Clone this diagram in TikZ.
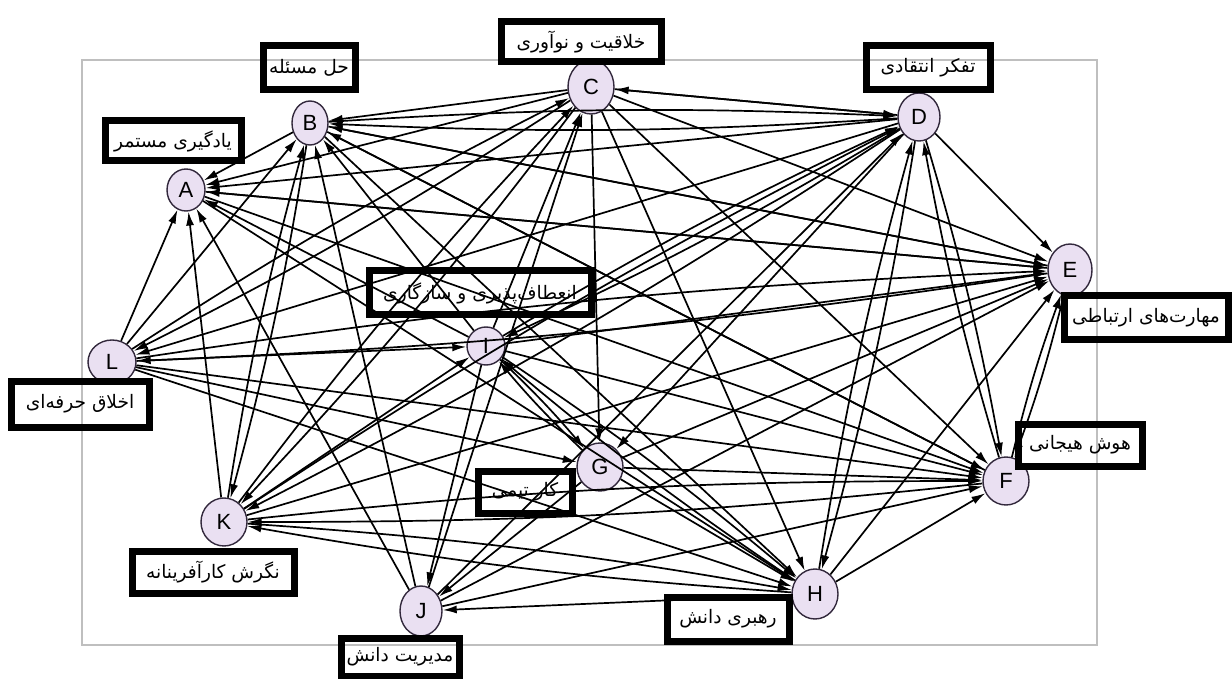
\documentclass[tikz,border=0pt]{standalone}
\usepackage{fontspec}
\setmainfont{Liberation Sans}
\newfontfamily\farsi[Script=Arabic]{DejaVu Sans}
\TeXXeTstate=1
\usetikzlibrary{shapes.geometric,arrows.meta}

\definecolor{lilac}{RGB}{234,224,242}
\definecolor{rim}{RGB}{50,40,60}

\tikzstyle{factor}=[ellipse,draw=rim,fill=lilac,line width=0.7pt,minimum width=22pt,minimum height=24pt,inner sep=0pt,font=\fontsize{11}{12}\selectfont]
\tikzstyle{tag}=[draw,line width=3.5pt,inner sep=0pt,font=\farsi\fontsize{9.3}{11}\selectfont]
\tikzstyle{frame}=[draw=black!25,line width=0.6pt]
\tikzstyle{pair}=[bend left=3]

\begin{document}
\begin{tikzpicture}[->, >={Latex[length=7pt,width=4pt]}, x=0.5pt, y=-0.5pt, line width=0.85pt]
		\useasboundingbox (0,0) rectangle (1232,679);
		\draw [frame,-] (82,60) rectangle (1097,645);

		\node [factor, minimum width=19pt, minimum height=21pt] (A) at (186,190) {A};
		\node [factor, minimum width=18pt, minimum height=22pt] (B) at (310,123) {B};
		\node [factor, minimum width=23pt, minimum height=27pt] (C) at (591,87)  {C};
		\node [factor, minimum width=21pt, minimum height=24pt] (D) at (919,117) {D};
		\node [factor, minimum width=22pt, minimum height=26pt] (E) at (1070,270) {E};
		\node [factor, minimum width=23pt, minimum height=24pt] (F) at (1006,481) {F};
		\node [factor, minimum width=23pt, minimum height=24pt] (G) at (600,467) {G};
		\node [factor, minimum width=23pt, minimum height=25pt] (H) at (815,594) {H};
		\node [factor, minimum width=19pt, minimum height=19pt] (I) at (486,346) {I};
		\node [factor, minimum width=21pt, minimum height=25pt] (J) at (421,611) {J};
		\node [factor, minimum width=23pt, minimum height=24pt] (K) at (224,522) {K};
		\node [factor, minimum width=24pt, minimum height=22pt] (L) at (112,362) {L};

		\node [tag, minimum width=68pt, minimum height=20pt]  (tagA) at (173,141)  {\beginR یادگیری مستمر\endR};
		\node [tag, minimum width=46pt, minimum height=22pt]  (tagB) at (309,68)   {\beginR حل مسئله\endR};
		\node [tag, minimum width=80pt, minimum height=20pt]  (tagC) at (581,42)   {\beginR خلاقیت و نوآوری\endR};
		\node [tag, minimum width=62pt, minimum height=22pt]  (tagD) at (928,68)   {\beginR تفکر انتقادی\endR};
		\node [tag, minimum width=82pt, minimum height=22pt]  (tagE) at (1146,318) {\beginR مهارت‌های ارتباطی\endR};
		\node [tag, minimum width=62pt, minimum height=21pt]  (tagF) at (1080,445) {\beginR هوش هیجانی\endR};
		\node [tag, minimum width=47pt, minimum height=21pt]  (tagG) at (525,492)  {\beginR کار تیمی\endR};
		\node [tag, minimum width=61pt, minimum height=22pt]  (tagH) at (728,619)  {\beginR رهبری دانش\endR};
		\node [tag, minimum width=111pt, minimum height=22pt] (tagI) at (480,293)  {\beginR انعطاف‌پذیری و سازگاری\endR};
		\node [tag, minimum width=59pt, minimum height=19pt]  (tagJ) at (400,657)  {\beginR مدیریت دانش\endR};
		\node [tag, minimum width=81pt, minimum height=21pt]  (tagK) at (213,572)  {\beginR نگرش کارآفرینانه\endR};
		\node [tag, minimum width=69pt, minimum height=23pt]  (tagL) at (80,404)   {\beginR اخلاق حرفه‌ای\endR};

		% into A
		\draw (B) edge (A);
		\draw (C) edge (A);
		\draw (D) edge (A);
		\draw (E) edge (A);
		\draw (I) edge (A);
		\draw (J) edge (A);
		\draw (K) edge (A);
		\draw (L) edge (A);
		\draw (A) edge (E);
		\draw (A) edge (F);
		\draw (A) edge (H);
		% into B
		\draw (C) edge (B);
		\draw (D) edge[pair] (B);
		\draw (E) edge (B);
		\draw (F) edge (B);
		\draw (I) edge (B);
		\draw (J) edge (B);
		\draw (K) edge[pair] (B);
		\draw (L) edge (B);
		\draw (B) edge[pair] (D);
		\draw (B) edge (E);
		\draw (B) edge (F);
		\draw (B) edge (H);
		\draw (B) edge[pair] (K);
		% C
		\draw (D) edge (C);
		\draw (C) edge (D);
		\draw (C) edge (E);
		\draw (C) edge (F);
		\draw (C) edge (G);
		\draw (C) edge (H);
		\draw (C) edge[pair] (K);
		\draw (C) edge[pair] (L);
		\draw (I) edge (C);
		\draw (K) edge[pair] (C);
		\draw (L) edge[pair] (C);
		\draw (J) edge (C);
		% D
		\draw (D) edge (E);
		\draw (D) edge[pair] (F);
		\draw (D) edge[pair] (H);
		\draw (D) edge[pair] (K);
		\draw (D) edge (L);
		\draw (D) edge[pair] (I);
		\draw (D) edge (G);
		\draw (F) edge[pair] (D);
		\draw (H) edge[pair] (D);
		\draw (I) edge[pair] (D);
		\draw (K) edge[pair] (D);
		\draw (J) edge (D);
		% E
		\draw (E) edge[pair] (F);
		\draw (F) edge[pair] (E);
		\draw (H) edge (E);
		\draw (L) edge[pair] (E);
		\draw (E) edge[pair] (L);
		\draw (I) edge (E);
		\draw (K) edge (E);
		\draw (G) edge (E);
		\draw (J) edge (E);
		% F
		\draw (G) edge (F);
		\draw (H) edge (F);
		\draw (K) edge[pair] (F);
		\draw (F) edge[pair] (K);
		\draw (L) edge (F);
		\draw (I) edge (F);
		\draw (J) edge (F);
		% G, H, I, J, K
		\draw (I) edge[pair] (G);
		\draw (G) edge[pair] (I);
		\draw (L) edge (G);
		\draw (G) edge (J);
		\draw (I) edge[pair] (H);
		\draw (H) edge[pair] (I);
		\draw (G) edge (H);
		\draw (L) edge (H);
		\draw (K) edge[pair] (H);
		\draw (H) edge[pair] (K);
		\draw (H) edge (J);
		\draw (I) edge (J);
		\draw (L) edge (I);
		\draw (K) edge (I);
	\end{tikzpicture}
\end{document}
